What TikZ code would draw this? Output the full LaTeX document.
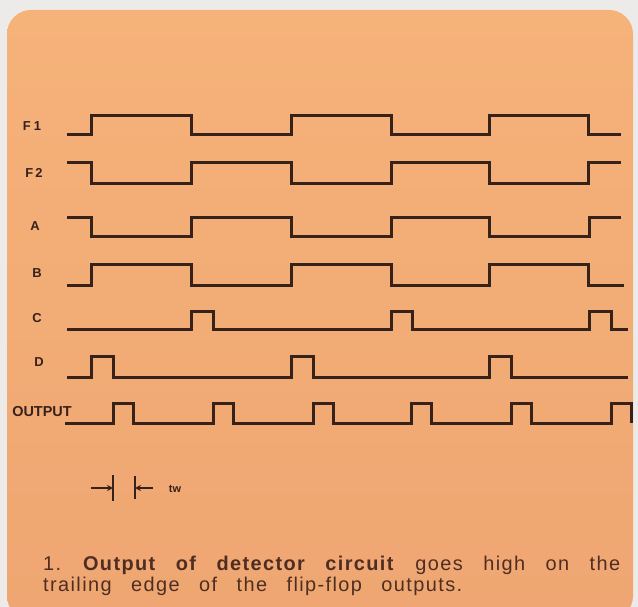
\documentclass[tikz,border=0pt]{standalone}
\usepackage{fontspec}
\setmainfont{Liberation Sans}
\newfontfamily\capfont[LetterSpace=7]{Liberation Sans}
\usetikzlibrary{arrows.meta}
\definecolor{bgout}{RGB}{236,235,233}
\definecolor{orangetop}{RGB}{245,178,121}
\definecolor{orangebot}{RGB}{239,166,114}
\definecolor{ink}{RGB}{55,33,27}
\definecolor{capink}{RGB}{78,46,34}
\begin{document}
\begin{tikzpicture}[x=1bp,y=-1bp,
  wave/.style={draw=ink, line width=3bp, line join=miter},
  lab/.style={text=ink, inner sep=0pt, font=\bfseries\fontsize{13}{13}\selectfont},
  captext/.style={text=capink, inner sep=0pt, anchor=base west, font=\capfont\fontsize{20}{20}\selectfont},
  twline/.style={draw=ink, line width=1.7bp},
  twarrow/.style={draw=ink, line width=1.7bp, -{Stealth[length=6bp,width=6bp]}}]
\fill[bgout] (0,0) rectangle (638,607);
\useasboundingbox (0,0) rectangle (638,607);
\shade[top color=orangetop, bottom color=orangebot, rounded corners=24bp] (7,10) rectangle (633,620);

% labels
\node[lab] (lF1) at (32,126) {F\hspace{3bp}1};
\node[lab] (lF2) at (34,173) {F\hspace{2bp}2};
\node[lab] (lA) at (35,226) {A};
\node[lab] (lB) at (37,273) {B};
\node[lab] (lC) at (37,318) {C};
\node[lab] (lD) at (39,362) {D};
\node[lab, font=\bfseries\fontsize{14.5}{14.5}\selectfont] (lOut) at (42,412) {OUTPUT};

% F1
\draw[wave] (67,135) -- (91,135) -- (91,116) -- (191,116) -- (191,135) -- (291,135) -- (291,116) -- (391,116) -- (391,135) -- (489,135) -- (489,116) -- (588,116) -- (588,135) -- (621,135);
% F2
\draw[wave] (67,163) -- (91,163) -- (91,183) -- (191,183) -- (191,163) -- (291,163) -- (291,183) -- (391,183) -- (391,163) -- (489,163) -- (489,183) -- (588,183) -- (588,163) -- (621,163);
% A
\draw[wave] (67,217) -- (91,217) -- (91,236) -- (191,236) -- (191,217) -- (291,217) -- (291,236) -- (391,236) -- (391,217) -- (489,217) -- (489,236) -- (589,236) -- (589,217) -- (621,217);
% B
\draw[wave] (67,285) -- (91,285) -- (91,264) -- (191,264) -- (191,285) -- (291,285) -- (291,264) -- (391,264) -- (391,285) -- (489,285) -- (489,264) -- (588,264) -- (588,285) -- (624,285);
% C
\draw[wave] (67,329) -- (191,329) -- (191,311) -- (213,311) -- (213,329) -- (391,329) -- (391,311) -- (412,311) -- (412,329) -- (589,329) -- (589,311) -- (611,311) -- (611,329) -- (628,329);
% D
\draw[wave] (67,377) -- (91,377) -- (91,356) -- (113,356) -- (113,377) -- (291,377) -- (291,356) -- (313,356) -- (313,377) -- (489,377) -- (489,356) -- (511,356) -- (511,377) -- (628,377);
% OUTPUT
\draw[wave] (65,423) -- (113,423) -- (113,403) -- (133,403) -- (133,423) -- (213,423) -- (213,403) -- (233,403) -- (233,423) -- (313,423) -- (313,403) -- (333,403) -- (333,423) -- (411,423) -- (411,403) -- (431,403) -- (431,423) -- (511,423) -- (511,403) -- (531,403) -- (531,423) -- (611,423) -- (611,403) -- (631,403) -- (631,423);

% tw marker
\coordinate (twLs) at (91,488);
\coordinate (twLe) at (113,488);
\coordinate (twRs) at (153,488);
\coordinate (twRe) at (135,488);
\draw[twline] (113,475) -- (113,501);
\draw[twline] (135,476) -- (135,499);
\draw[twarrow] (twLs) -- (twLe);
\draw[twarrow] (twRs) -- (twRe);
\node[text=ink, inner sep=0pt, font=\bfseries\fontsize{11}{11}\selectfont] (tw) at (175,489) {tw};

% caption
\node[captext] (cap1) at (43,570) {\makebox[577bp][s]{1.\ \textbf{Output of detector circuit} goes high on the}};
\node[captext] (cap2) at (43,591) {\makebox[419bp][s]{trailing edge of the flip-flop outputs.}};
\end{tikzpicture}
\end{document}
